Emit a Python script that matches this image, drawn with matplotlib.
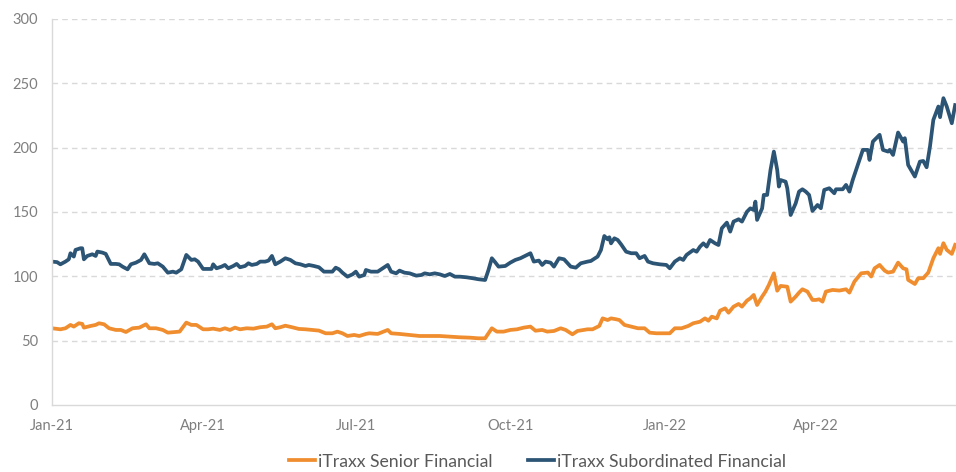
import numpy as np
import pandas as pd
import matplotlib
matplotlib.use('Agg')
import matplotlib.pyplot as plt
import matplotlib.dates as mdates

start = pd.Timestamp('2021-01-01')

# Subordinated index: days since 1 Jan 2021 and spread (bp)
sub_days = [0, 3, 5, 8, 10, 11, 13, 14, 17, 18, 19, 21, 24, 26, 27, 30, 32, 35, 38, 40,
            42, 45, 47, 50, 53, 55, 58, 61, 63, 66, 69, 72, 74, 77, 80, 83, 85, 87, 90, 93,
            95, 96, 98, 101, 103, 105, 108, 110, 112, 115, 117, 119, 122, 124, 127, 129, 131, 133, 136, 139,
            142, 145, 148, 151, 153, 156, 159, 162, 165, 167, 169, 171, 173, 176, 179, 181, 183, 186, 187, 190,
            194, 197, 200, 202, 205, 207, 210, 213, 217, 220, 222, 225, 228, 231, 234, 237, 240, 243, 247, 251,
            254, 258, 260, 262, 264, 266, 270, 273, 276, 279, 283, 285, 287, 290, 292, 294, 297, 299, 302, 305,
            309, 312, 315, 319, 321, 325, 327, 329, 331, 332, 333, 335, 337, 339, 342, 345, 348, 350, 353, 355,
            358, 362, 366, 368, 371, 374, 376, 378, 382, 384, 386, 388, 390, 392, 395, 397, 399, 402, 404, 406,
            409, 411, 414, 416, 418, 419, 420, 423, 424, 426, 428, 430, 432, 433, 434, 437, 438, 440, 443, 445,
            447, 449, 451, 453, 456, 458, 460, 463, 466, 467, 471, 473, 475, 477, 480, 483, 486, 487, 489, 493,
            495, 498, 499, 501, 504, 507, 508, 510, 514, 517, 519, 521, 523, 525, 528, 529, 531, 533, 536, 538]
sub_vals = [111.4, 111, 109.3, 111.4, 113.2, 117.9, 115.3, 120.5, 121.8, 121.8, 113.2, 115.8, 117.1, 115.8, 119.2, 118.4, 117.4, 109.6, 109.6, 109.3,
            107.5, 105.4, 109.3, 110.6, 112.7, 117.1, 110.1, 109.6, 110.1, 107.5, 102.8, 103.6, 102.8, 105.4, 116.6, 112.7, 113.2, 111.4, 105.7, 105.7,
            105.7, 109.3, 106.2, 107.5, 108.8, 106.2, 108.0, 109.6, 107.0, 108.0, 110.1, 108.8, 109.6, 111.4, 111.4, 112.2, 115.8, 109.3, 111.4, 114.0,
            112.7, 110.1, 109.3, 108.0, 108.8, 108.0, 107.0, 103.6, 103.6, 103.6, 106.7, 105.4, 102.8, 99.7, 101.5, 103.6, 99.7, 101.0, 104.9, 103.6,
            103.6, 106.2, 108.8, 103.6, 102.3, 104.4, 102.8, 102.3, 100.5, 101.0, 102.3, 101.5, 102.3, 101.5, 100.2, 101.8, 99.7, 99.7, 99.2, 98.4,
            97.7, 97.1, 104.9, 114.0, 110.9, 107.5, 108.0, 110.6, 112.7, 114.0, 116.6, 117.9, 111.4, 112.2, 108.8, 111.4, 110.6, 107.5, 114.0, 113.2,
            107.5, 106.7, 110.1, 111.4, 111.9, 115.3, 120.4, 131.3, 128.7, 130.3, 125.6, 129.5, 128.2, 124.8, 119.1, 117.9, 117.9, 114.0, 115.8, 111.4,
            110.1, 109.3, 108.8, 106.2, 111.4, 114.0, 112.7, 116.6, 120.4, 119.1, 123.0, 125.6, 123.0, 128.2, 125.6, 124.3, 137.3, 141.7, 134.7, 142.5,
            144.3, 142.5, 150.2, 152.8, 151.5, 158.0, 143.8, 152.8, 163.2, 163.2, 182.6, 196.9, 182.6, 169.7, 174.8, 173.5, 168.4, 147.6, 156.7, 165.8,
            167.6, 165.8, 163.2, 150.8, 155.4, 152.9, 167.1, 168.4, 164.5, 167.6, 167.6, 171.0, 165.8, 174.9, 186.5, 198.2, 198.2, 190.4, 204.7, 209.9,
            198.2, 196.9, 198.2, 194.3, 211.7, 204.7, 207.3, 186.5, 177.5, 189.1, 189.6, 184.7, 200.8, 221.5, 231.9, 223.6, 238.4, 231.9, 218.9, 233.0]

# Senior index
sen_days = [0, 5, 8, 11, 13, 16, 18, 19, 23, 26, 28, 31, 34, 38, 41, 44, 48, 52, 56, 58,
            62, 66, 69, 73, 76, 80, 83, 86, 90, 93, 96, 100, 103, 106, 109, 112, 116, 120, 124, 128,
            131, 133, 136, 139, 143, 147, 151, 155, 159, 163, 167, 170, 173, 176, 180, 183, 187, 189, 194, 200,
            202, 207, 213, 219, 225, 231, 237, 243, 249, 254, 258, 260, 262, 265, 269, 273, 277, 281, 285, 288,
            292, 295, 299, 303, 306, 310, 313, 319, 322, 326, 328, 331, 333, 336, 338, 341, 345, 349, 353, 356,
            360, 364, 368, 371, 375, 379, 382, 386, 389, 391, 393, 396, 398, 401, 403, 406, 409, 411, 414, 416,
            418, 420, 423, 425, 427, 430, 432, 434, 438, 440, 443, 445, 447, 450, 453, 455, 457, 459, 461, 465,
            469, 473, 475, 478, 482, 486, 488, 490, 493, 496, 498, 501, 504, 507, 509, 510, 514, 516, 519, 522,
            525, 528, 529, 531, 533, 536, 538]
sen_vals = [59.6, 58.8, 59.6, 62.2, 60.9, 63.5, 63.0, 60.1, 61.4, 62.2, 63.5, 62.7, 59.6, 58.3, 58.3, 56.7, 59.6, 60.1, 62.7, 59.6,
            59.6, 58.3, 56.2, 56.7, 57.0, 64.0, 62.2, 62.2, 58.8, 58.8, 59.3, 58.3, 59.6, 58.3, 60.1, 58.8, 59.6, 59.3, 60.4, 60.9,
            62.7, 59.6, 60.4, 61.6, 60.4, 59.1, 58.8, 58.3, 57.8, 55.7, 55.7, 57.0, 55.7, 53.6, 54.4, 53.6, 55.2, 55.7, 55.2, 58.3,
            55.7, 55.2, 54.4, 53.6, 53.6, 53.6, 53.1, 52.6, 52.3, 51.8, 51.8, 55.7, 59.6, 57.0, 57.0, 58.3, 58.8, 60.1, 60.9, 57.7,
            58.3, 57.0, 57.5, 59.6, 58.3, 54.9, 57.5, 58.8, 58.8, 61.4, 67.3, 66.0, 67.3, 66.6, 66.0, 62.2, 60.9, 59.6, 59.6, 56.2,
            55.7, 55.7, 55.7, 59.6, 59.6, 61.4, 63.5, 64.7, 67.3, 65.5, 68.6, 67.3, 73.3, 75.1, 71.7, 76.4, 78.5, 76.4, 81.1, 82.9,
            85.5, 77.7, 84.2, 88.1, 93.2, 102.3, 88.8, 92.5, 91.9, 80.3, 84.2, 87.3, 89.9, 88.1, 81.6, 81.6, 82.1, 80.3, 88.1, 89.4,
            88.9, 89.9, 87.3, 95.9, 102.3, 102.9, 99.8, 106.2, 108.8, 104.4, 102.9, 103.6, 110.6, 106.2, 105.4, 97.2, 94.0, 98.5, 98.5, 102.9,
            114.0, 121.8, 117.4, 125.7, 120.5, 117.4, 124.4]

tick_dates = ['2021-01-01', '2021-04-01', '2021-07-01', '2021-10-01', '2022-01-01', '2022-04-01']

sub_x = start + pd.to_timedelta(sub_days, unit='D')
sen_x = start + pd.to_timedelta(sen_days, unit='D')

plt.rcParams['font.family'] = ['Lato', 'DejaVu Sans']

fig = plt.figure(figsize=(9.56, 4.72), dpi=100)
ax = fig.add_axes([0.0544, 0.142, 0.9456, 0.818])

orange = '#F08D2E'
blue = '#2C5474'
ax.plot(sen_x, sen_vals, color=orange, lw=2.7, label='iTraxx Senior Financial', solid_joinstyle='round')
ax.plot(sub_x, sub_vals, color=blue, lw=2.7, label='iTraxx Subordinated Financial', solid_joinstyle='round')

ax.set_ylim(0, 300)
ax.set_yticks(range(0, 301, 50))
ax.set_xlim(start, start + pd.Timedelta(days=538.5))
ax.set_xticks(pd.to_datetime(tick_dates))
ax.xaxis.set_major_formatter(mdates.DateFormatter('%b-%y'))

for v in range(50, 301, 50):
    ax.axhline(v, color='#D9D9D9', lw=1, ls=(0, (4, 3)), zorder=0)

for s in ['top', 'right']:
    ax.spines[s].set_visible(False)
for s in ['left', 'bottom']:
    ax.spines[s].set_color('#D9D9D9')
    ax.spines[s].set_linewidth(1)

ax.tick_params(length=0, labelsize=10.5, labelcolor='#7F7F7F')
ax.tick_params(axis='y', pad=10)
ax.tick_params(axis='x', pad=10)

leg = fig.legend(loc='center', bbox_to_anchor=(0.562, 0.022), ncol=2, frameon=False,
                 fontsize=12.7, handlelength=1.5, handletextpad=0.15, columnspacing=2.0)
for t in leg.get_texts():
    t.set_color('#595959')

fig.savefig('out.png', dpi=100)
